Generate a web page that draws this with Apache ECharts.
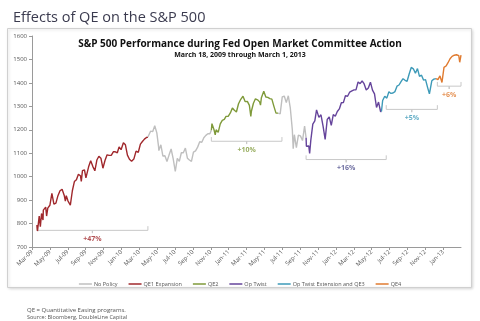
<!DOCTYPE html>
<html><head><meta charset="utf-8">
<script src="https://cdn.jsdelivr.net/npm/echarts@6/dist/echarts.min.js"></script>
<style>html,body{margin:0;padding:0;background:#fff}#c{width:480px;height:321px}</style>
</head><body><div id="c"></div>
<script>
// Weekly-ish S&P 500 closes
const dates = [
'2009-03-18','2009-03-20','2009-03-26','2009-03-30','2009-04-03','2009-04-08','2009-04-09','2009-04-17','2009-04-20','2009-04-24',
'2009-05-01','2009-05-08','2009-05-15','2009-05-22','2009-05-29','2009-06-05','2009-06-12','2009-06-19','2009-06-23','2009-06-26',
'2009-07-02','2009-07-10','2009-07-17','2009-07-24','2009-07-31','2009-08-07','2009-08-14','2009-08-17','2009-08-21','2009-08-28',
'2009-09-02','2009-09-11','2009-09-18','2009-09-25','2009-10-02','2009-10-09','2009-10-16','2009-10-23','2009-10-30','2009-11-06',
'2009-11-13','2009-11-20','2009-11-27','2009-12-04','2009-12-11','2009-12-18','2009-12-24','2009-12-31',
'2010-01-08','2010-01-15','2010-01-22','2010-01-29','2010-02-05','2010-02-12','2010-02-19','2010-02-26','2010-03-05','2010-03-12',
'2010-03-19','2010-03-26','2010-03-31','2010-04-09','2010-04-16','2010-04-23','2010-04-30','2010-05-06','2010-05-07','2010-05-14',
'2010-05-21','2010-05-28','2010-06-04','2010-06-11','2010-06-18','2010-06-25','2010-07-02','2010-07-09','2010-07-16','2010-07-23',
'2010-07-30','2010-08-06','2010-08-13','2010-08-20','2010-08-27','2010-09-03','2010-09-10','2010-09-17','2010-09-24','2010-10-01',
'2010-10-08','2010-10-15','2010-10-22','2010-10-29','2010-11-03','2010-11-05','2010-11-12','2010-11-16','2010-11-19','2010-11-26',
'2010-12-03','2010-12-10','2010-12-17','2010-12-23','2010-12-31',
'2011-01-07','2011-01-14','2011-01-21','2011-01-28','2011-02-04','2011-02-11','2011-02-18','2011-02-25','2011-03-04','2011-03-11',
'2011-03-16','2011-03-18','2011-03-25','2011-04-01','2011-04-08','2011-04-15','2011-04-18','2011-04-21','2011-04-29','2011-05-06',
'2011-05-13','2011-05-20','2011-05-27','2011-06-03','2011-06-10','2011-06-15','2011-06-17','2011-06-24','2011-07-01','2011-07-08',
'2011-07-15','2011-07-22','2011-07-29','2011-08-05','2011-08-08','2011-08-12','2011-08-19','2011-08-26','2011-09-02','2011-09-09',
'2011-09-16','2011-09-21','2011-09-22','2011-09-30','2011-10-03','2011-10-07','2011-10-14','2011-10-21','2011-10-27','2011-11-04',
'2011-11-11','2011-11-18','2011-11-25','2011-12-02','2011-12-09','2011-12-16','2011-12-23','2011-12-30',
'2012-01-06','2012-01-13','2012-01-20','2012-01-27','2012-02-03','2012-02-10','2012-02-17','2012-02-24','2012-03-02','2012-03-09',
'2012-03-16','2012-03-23','2012-03-30','2012-04-05','2012-04-13','2012-04-20','2012-04-27','2012-05-04','2012-05-11','2012-05-18',
'2012-05-25','2012-06-01','2012-06-04','2012-06-08','2012-06-15','2012-06-22','2012-06-29','2012-07-06','2012-07-13','2012-07-20',
'2012-07-27','2012-08-03','2012-08-10','2012-08-17','2012-08-24','2012-08-31','2012-09-07','2012-09-14','2012-09-21','2012-09-28',
'2012-10-05','2012-10-12','2012-10-19','2012-10-26','2012-11-02','2012-11-09','2012-11-15','2012-11-23','2012-11-30','2012-12-07',
'2012-12-14','2012-12-21','2012-12-28',
'2013-01-04','2013-01-11','2013-01-18','2013-01-25','2013-02-01','2013-02-08','2013-02-15','2013-02-22','2013-02-25','2013-03-01'
];
const closes = [
794,768,832,787,843,815,857,870,832,866,
878,929,883,887,919,940,946,921,896,919,
896,879,940,979,987,1010,1004,980,1026,1029,
995,1042,1068,1044,1025,1071,1087,1079,1036,1069,
1093,1091,1091,1106,1106,1102,1127,1115,
1145,1136,1092,1074,1066,1075,1109,1104,1139,1150,
1160,1167,1169,1194,1192,1217,1187,1128,1111,1136,
1088,1089,1065,1092,1118,1076,1022,1078,1065,1102,
1102,1122,1079,1071,1065,1105,1110,1126,1149,1147,
1166,1176,1183,1183,1198,1226,1200,1178,1200,1189,
1225,1240,1244,1257,1258,
1272,1293,1283,1276,1311,1330,1343,1320,1321,1304,
1257,1279,1313,1332,1328,1319,1305,1337,1364,1340,
1338,1333,1331,1300,1271,1265,1271,1268,1340,1344,
1316,1345,1292,1199,1119,1179,1124,1177,1174,1154,
1216,1166,1130,1131,1099,1155,1224,1238,1285,1253,
1264,1216,1159,1244,1255,1219,1265,1258,
1278,1289,1315,1316,1345,1343,1361,1366,1370,1371,
1404,1397,1408,1398,1370,1378,1403,1369,1353,1295,
1318,1278,1278,1325,1343,1335,1362,1355,1357,1363,
1386,1391,1405,1418,1411,1407,1438,1466,1460,1441,
1461,1428,1433,1412,1414,1380,1353,1409,1416,1418,
1414,1430,1402,
1466,1472,1486,1503,1513,1518,1520,1516,1488,1518
];
// Coloured segments (name, from, to)
const segNames  = ['QE1 Expansion','No Policy','QE2','No Policy','Op Twist','Op Twist Extension and QE3','QE4'];
const segStarts = ['2009-03-18','2010-03-31','2010-11-03','2011-06-17','2011-09-21','2012-06-04','2012-12-07'];
const segEnds   = ['2010-03-31','2010-11-03','2011-06-17','2011-09-21','2012-06-04','2012-12-07','2013-03-01'];
const legendNames  = ['No Policy','QE1 Expansion','QE2','Op Twist','Op Twist Extension and QE3','QE4'];
const legendColors = ['#bfbfbf','#a0282c','#7f9a3a','#65449b','#3d9ab8','#e07b30'];
// Program brackets
const brStarts = ['2009-03-18','2010-11-03','2011-09-21','2012-06-20','2012-12-12'];
const brEnds   = ['2010-03-31','2011-06-30','2012-06-20','2012-12-12','2013-03-01'];
const brLevels = [771,1151,1073,1287,1386];
const brTexts  = ['+47%','+10%','+16%','+5%','+6%'];
const brColors = ['#a0282c','#7f9a3a','#4a4a8a','#3d9ab8','#e07b30'];
const xTickLabels = ['Mar-09','May-09','Jul-09','Sep-09','Nov-09','Jan-10','Mar-10','May-10','Jul-10','Sep-10','Nov-10','Jan-11',
 'Mar-11','May-11','Jul-11','Sep-11','Nov-11','Jan-12','Mar-12','May-12','Jul-12','Sep-12','Nov-12','Jan-13'];
const yMin = 700, yMax = 1600, yStep = 100;

function mIdx(s){ const p=s.split('-').map(Number); const dim=new Date(Date.UTC(p[0],p[1],0)).getUTCDate();
  return (p[0]-2009)*12+(p[1]-3)+(p[2]-1)/dim; }
const colorOf = n => legendColors[legendNames.indexOf(n)];
const series = [];
segNames.forEach((n,i)=>{
  const a=segStarts[i], b=segEnds[i];
  const d=[]; dates.forEach((dt,k)=>{ if(dt>=a && dt<=b) d.push([mIdx(dt),closes[k]]); });
  series.push({name:n,type:'line',data:d,symbol:'none',smooth:false,z:3,
    lineStyle:{color:colorOf(n),width:1.4},itemStyle:{color:colorOf(n)}});
});
brTexts.forEach((t,i)=>{
  const x0=mIdx(brStarts[i]), x1=mIdx(brEnds[i]), xm=(x0+x1)/2, y=brLevels[i];
  series.push({type:'line',silent:true,symbol:'none',z:2,lineStyle:{color:'#c8c8c8',width:1},
    data:[[x0,y+18],[x0,y],[xm,y],[xm,y-12],[xm,y],[x1,y],[x1,y+18]]});
  series.push({type:'scatter',silent:true,symbolSize:0,data:[[xm,y]],z:4,
    label:{show:true,position:'bottom',distance:5,formatter:t,color:brColors[i],fontSize:7,fontWeight:'bold',fontFamily:'Open Sans'}});
});
const chart = echarts.init(document.getElementById('c'),null,{renderer:'canvas'});
const tickVals = xTickLabels.map((_,i)=>i*2);
chart.setOption({
  animation:false,
  textStyle:{fontFamily:'Open Sans'},
  graphic:[{type:'rect',shape:{x:7.5,y:28.5,width:464,height:259},style:{fill:'#fff',stroke:'#d0d0d0',lineWidth:1,shadowBlur:3,shadowColor:'rgba(0,0,0,0.15)',shadowOffsetX:1,shadowOffsetY:1},z:-10}],
  title:[
    {text:'Effects of QE on the S&P 500',left:8,top:5,textStyle:{fontFamily:'Open Sans',fontSize:14.5,fontWeight:'normal',color:'#3b3b4f'}},
    {text:'S&P 500 Performance during Fed Open Market Committee Action',left:'center',top:34,
      textStyle:{fontFamily:'Open Sans',fontSize:10,fontWeight:'bold',color:'#111'},
      subtext:'March 18, 2009 through March 1, 2013',itemGap:2,
      subtextStyle:{fontFamily:'Open Sans',fontSize:7,fontWeight:'bold',color:'#111'}},
    {text:'QE = Quantitative Easing programs.',left:22,top:302,textStyle:{fontFamily:'Open Sans',fontSize:6,fontWeight:'normal',color:'#555'},
      subtext:'Source: Bloomberg, DoubleLine Capital',itemGap:1,subtextStyle:{fontFamily:'Open Sans',fontSize:5.5,color:'#555'}}
  ],
  legend:{data:legendNames.map(n=>({name:n,icon:'rect'})),top:276,left:'center',itemWidth:13,itemHeight:1.5,itemGap:11,
    textStyle:{fontSize:5.5,color:'#555',fontFamily:'Open Sans',padding:[0,0,0,-3]}},
  grid:{left:32,right:19,top:36,bottom:74},
  xAxis:{type:'value',min:0,max:48,interval:2,
    axisLine:{lineStyle:{color:'#9a9a9a'}},splitLine:{show:false},
    axisTick:{show:true,length:3,customValues:tickVals,lineStyle:{color:'#9a9a9a'}},
    axisLabel:{customValues:tickVals,rotate:45,fontSize:6,color:'#555',margin:4,
      formatter:v=>xTickLabels[Math.round(v/2)]||''}},
  yAxis:{type:'value',min:yMin,max:yMax,interval:yStep,
    axisLine:{show:true,lineStyle:{color:'#9a9a9a'}},splitLine:{show:false},
    axisTick:{show:true,length:3,lineStyle:{color:'#9a9a9a'}},
    axisLabel:{fontSize:6,color:'#555',margin:5,formatter:v=>String(v)}},
  series:series
});
</script></body></html>
